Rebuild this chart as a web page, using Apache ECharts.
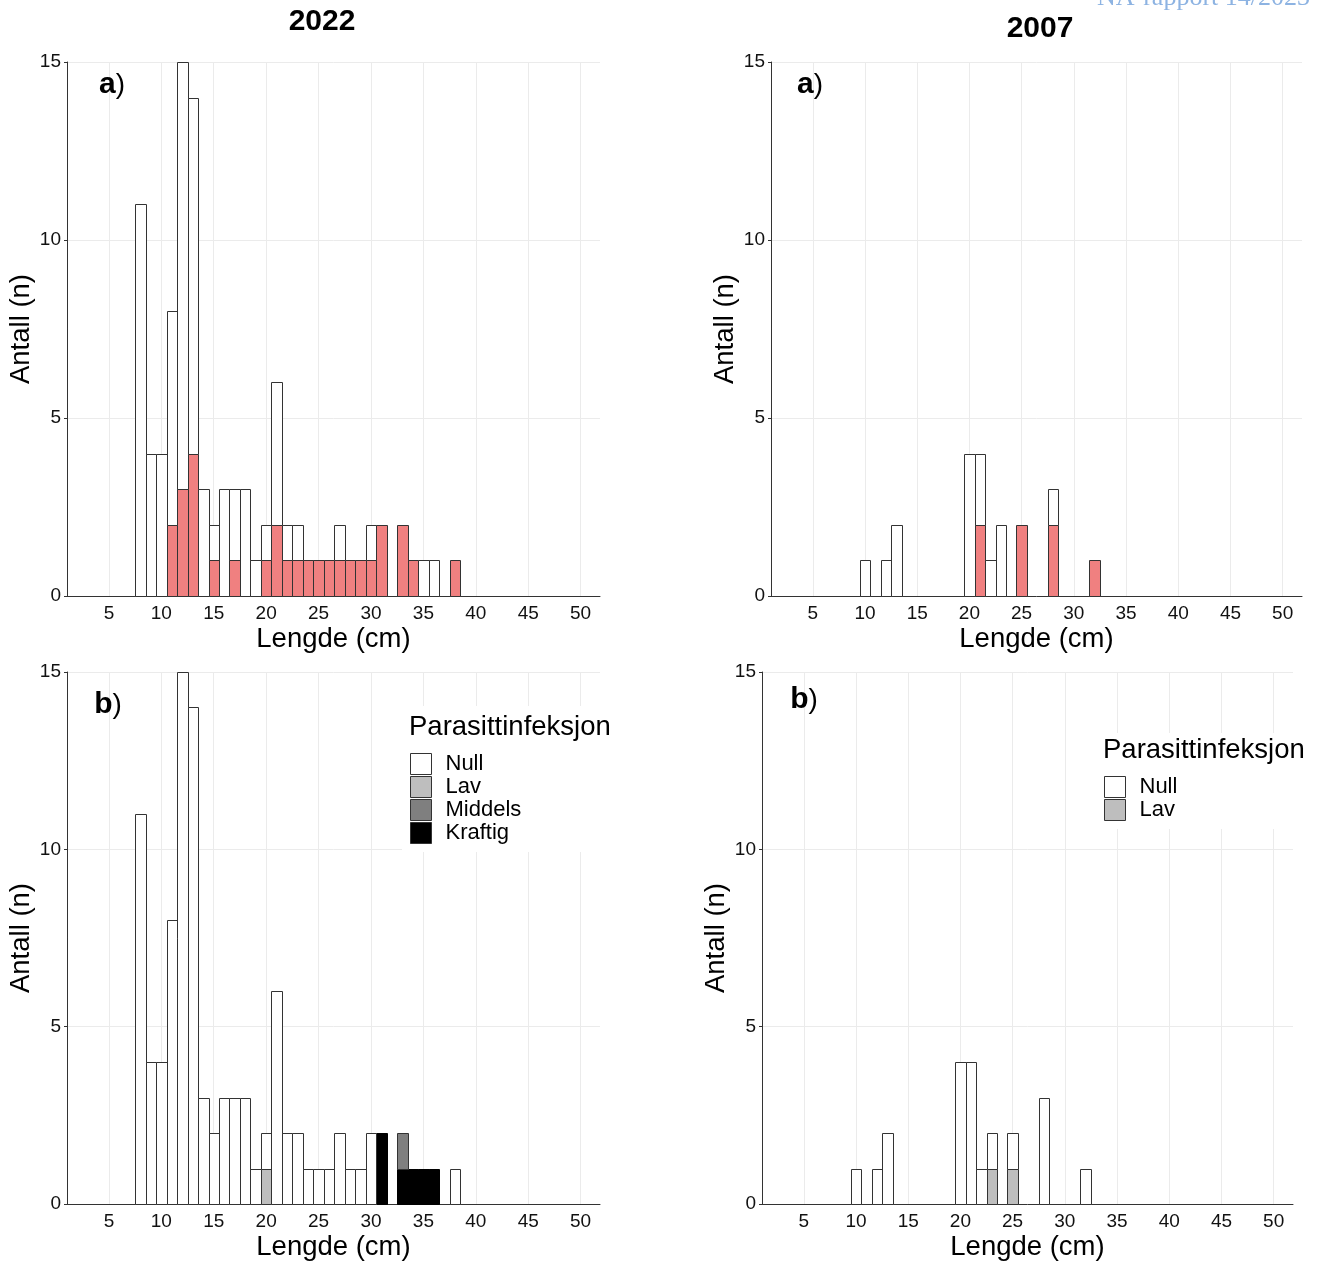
<!DOCTYPE html>
<html>
<head>
<meta charset="utf-8">
<script src="https://cdn.jsdelivr.net/npm/echarts@6/dist/echarts.min.js"></script>
<style>
html,body{margin:0;padding:0;background:#fff;}
#chart{width:1320px;height:1262px;}
</style>
</head>
<body>
<div id="chart"></div>
<script>
// ---------- DATA ----------
// Length bins (cm, bin centres) 2022: 8..38
const bins2022 = [8,9,10,11,12,13,14,15,16,17,18,19,20,21,22,23,24,25,26,27,28,29,30,31,32,33,34,35,36,37,38];
// Panel a) 2022
const red2022a   = [0,0,0,2,3,4,0,1,0,1,0,0,1,2,1,1,1,1,1,1,1,1,1,2,0,2,1,0,0,0,1];
const white2022a = [11,4,4,6,12,10,3,1,3,2,3,1,1,4,1,1,0,0,0,1,0,0,1,0,0,0,0,1,1,0,0];
// Panel b) 2022 parasite infection
const null2022b    = [11,4,4,8,15,14,3,2,3,3,3,1,1,6,2,2,1,1,1,2,1,1,2,0,0,0,0,0,0,0,1];
const lav2022b     = [0,0,0,0,0,0,0,0,0,0,0,0,1,0,0,0,0,0,0,0,0,0,0,0,0,0,0,0,0,0,0];
const middels2022b = [0,0,0,0,0,0,0,0,0,0,0,0,0,0,0,0,0,0,0,0,0,0,0,0,0,1,0,0,0,0,0];
const kraftig2022b = [0,0,0,0,0,0,0,0,0,0,0,0,0,0,0,0,0,0,0,0,0,0,0,2,0,1,1,1,1,0,0];

// Length bins 2007: 10..32
const bins2007 = [10,11,12,13,14,15,16,17,18,19,20,21,22,23,24,25,26,27,28,29,30,31,32];
const red2007a   = [0,0,0,0,0,0,0,0,0,0,0,2,0,0,0,2,0,0,2,0,0,0,1];
const white2007a = [1,0,1,2,0,0,0,0,0,0,4,2,1,2,0,0,0,0,1,0,0,0,0];
const null2007b  = [1,0,1,2,0,0,0,0,0,0,4,4,1,1,0,1,0,0,3,0,0,0,1];
const lav2007b   = [0,0,0,0,0,0,0,0,0,0,0,0,0,1,0,1,0,0,0,0,0,0,0];

const xTickValues = [5,10,15,20,25,30,35,40,45,50];
const legendNames2022 = ['Null','Lav','Middels','Kraftig'];
const legendNames2007 = ['Null','Lav'];

// ---------- STYLE ----------
const FONT = "'Liberation Sans', Arial, sans-serif";
const COL = {red:'#F08080', white:'#FFFFFF', lav:'#BEBEBE', middels:'#7F7F7F', kraftig:'#000000'};
const EDGE = '#333333';
const GRIDC = '#EBEBEB';

const grids = [
  {left:67,  top:62,  width:533, height:534},
  {left:771, top:62,  width:531, height:534},
  {left:67,  top:672, width:533, height:534},
  {left:762, top:672, width:531, height:533}
];

function xAxisFor(i){
  return {
    type:'value', gridIndex:i, min:1, max:51.85,
    axisLine:{show:true, onZero:false, lineStyle:{color:'#333', width:1}},
    axisTick:{show:false, customValues:xTickValues},
    axisLabel:{customValues:xTickValues, fontSize:19, color:'#111', margin:8, fontFamily:FONT},
    splitLine:{show:true, lineStyle:{color:GRIDC, width:1}},
    name:'Lengde (cm)', nameLocation:'middle', nameGap:29,
    nameTextStyle:{fontSize:27.5, color:'#000', fontFamily:FONT}
  };
}
function yAxisFor(i){
  return {
    type:'value', gridIndex:i, min:0, max:15, interval:5,
    axisLine:{show:true, lineStyle:{color:'#333', width:1}},
    axisTick:{show:true, length:3, lineStyle:{color:'#333'}},
    axisLabel:{fontSize:19, color:'#111', margin:6, fontFamily:FONT},
    splitLine:{show:true, lineStyle:{color:GRIDC, width:1}},
    name:'Antall (n)', nameLocation:'middle', nameGap:32, nameRotate:90,
    nameTextStyle:{fontSize:27.5, color:'#000', fontFamily:FONT}
  };
}

function renderBin(params, api){
  const x = api.value(0), y0 = api.value(1), y1 = api.value(2);
  const a = api.coord([x - 0.5, y0]);
  const b = api.coord([x + 0.5, y1]);
  const x0 = Math.round(a[0]) + 0.5, x1 = Math.round(b[0]) + 0.5;
  const yb = Math.round(a[1]) + 0.5, yt = Math.round(b[1]) + 0.5;
  const fill = api.visual('color');
  return {
    type:'rect',
    shape:{x:x0, y:yt, width:x1 - x0, height:yb - yt},
    style:{fill:fill, stroke:(fill === '#000000' ? '#000' : EDGE), lineWidth:1}
  };
}

// layers listed bottom -> top
function stacked(bins, layers, gi){
  const base = bins.map(() => 0);
  return layers.map(L => {
    const data = [];
    bins.forEach((b, k) => {
      const v = L.values[k];
      if (v > 0) data.push([b, base[k], base[k] + v]);
      base[k] += v;
    });
    return {
      type:'custom', name:L.name, xAxisIndex:gi, yAxisIndex:gi,
      renderItem:renderBin, encode:{x:0, y:[1,2]},
      itemStyle:{color:L.color, borderColor:EDGE, borderWidth:1},
      data:data, z:2, silent:true
    };
  });
}

const series = [].concat(
  stacked(bins2022, [
    {name:'2022a rød', values:red2022a, color:COL.red},
    {name:'2022a hvit', values:white2022a, color:COL.white}
  ], 0),
  stacked(bins2007, [
    {name:'2007a rød', values:red2007a, color:COL.red},
    {name:'2007a hvit', values:white2007a, color:COL.white}
  ], 1),
  stacked(bins2022, [
    {name:'Kraftig', values:kraftig2022b, color:COL.kraftig},
    {name:'Middels', values:middels2022b, color:COL.middels},
    {name:'Lav', values:lav2022b, color:COL.lav},
    {name:'Null', values:null2022b, color:COL.white}
  ], 2),
  stacked(bins2007, [
    {name:'Lav', values:lav2007b, color:COL.lav},
    {name:'Null', values:null2007b, color:COL.white}
  ], 3)
);

function legendAt(left, top, names){
  return {
    show:true, orient:'vertical', left:left, top:top, data:names,
    icon:'rect', itemWidth:21, itemHeight:21, itemGap:1, padding:0,
    selectedMode:false, z:20,
    itemStyle:{borderColor:EDGE, borderWidth:1},
    textStyle:{fontSize:22, color:'#000', fontFamily:FONT, padding:[0,0,0,9]}
  };
}

function panelLabel(letter, x, y){
  return {
    type:'text', x:x, y:y, z:15,
    style:{
      text:'{b|' + letter + '}{n|)}',
      align:'center', verticalAlign:'middle',
      rich:{
        b:{fontSize:30, fontWeight:'bold', fontFamily:FONT, fill:'#000'},
        n:{fontSize:28, fontFamily:FONT, fill:'#000'}
      }
    }
  };
}

const option = {
  backgroundColor:'#fff',
  animation:false,
  grid:grids.map(g => Object.assign({containLabel:false}, g)),
  xAxis:[0,1,2,3].map(xAxisFor),
  yAxis:[0,1,2,3].map(yAxisFor),
  legend:[legendAt(410, 753, legendNames2022), legendAt(1104, 776, legendNames2007)],
  series:series,
  graphic:[
    {type:'text', x:1310, y:-2, z:1, style:{text:'NA-rapport 14/2023', align:'right', verticalAlign:'middle',
      fontSize:26, fontFamily:"'Liberation Serif', 'Times New Roman', serif", fill:'#8DB3E2'}},
    {type:'text', x:322, y:22, z:15, style:{text:'2022', align:'center', verticalAlign:'middle',
      fontSize:30, fontWeight:'bold', fontFamily:FONT, fill:'#000'}},
    {type:'text', x:1040, y:29, z:15, style:{text:'2007', align:'center', verticalAlign:'middle',
      fontSize:30, fontWeight:'bold', fontFamily:FONT, fill:'#000'}},
    panelLabel('a', 112, 85),
    panelLabel('a', 810, 85),
    panelLabel('b', 108, 705),
    panelLabel('b', 804, 700),
    {type:'rect', shape:{x:402, y:706, width:216, height:146}, z:10, style:{fill:'#fff'}},
    {type:'text', x:409, y:727, z:15, style:{text:'Parasittinfeksjon', align:'left', verticalAlign:'middle',
      fontSize:27.5, fontFamily:FONT, fill:'#000'}},
    {type:'rect', shape:{x:1097, y:733, width:215, height:96}, z:10, style:{fill:'#fff'}},
    {type:'text', x:1103, y:750, z:15, style:{text:'Parasittinfeksjon', align:'left', verticalAlign:'middle',
      fontSize:27.5, fontFamily:FONT, fill:'#000'}}
  ]
};

const chart = echarts.init(document.getElementById('chart'), null, {renderer:'canvas'});
chart.setOption(option);
</script>
</body>
</html>
